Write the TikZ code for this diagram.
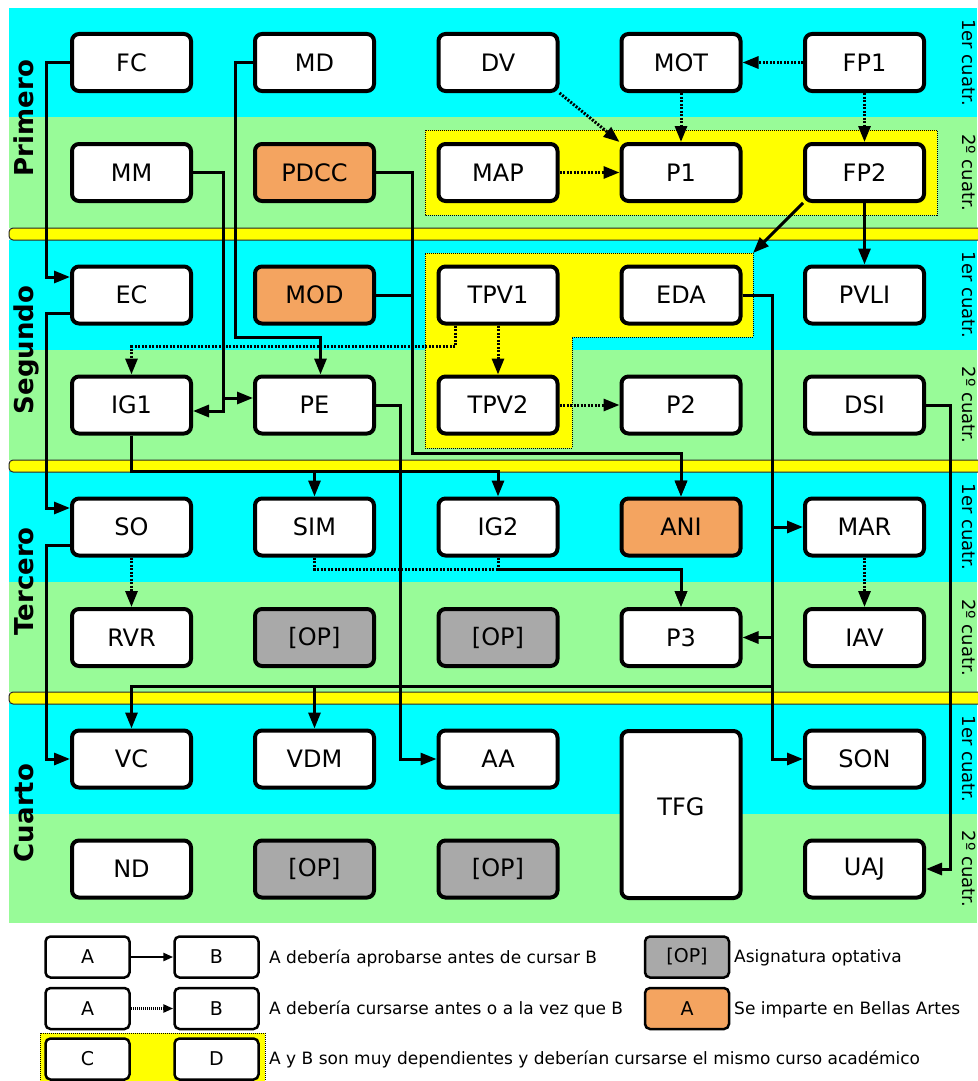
\documentclass[tikz,border=0pt]{standalone}
\usepackage{fontspec}
\setmainfont{DejaVu Sans}
\usetikzlibrary{arrows.meta}
\definecolor{cuatuno}{HTML}{00FFFF}
\definecolor{cuatdos}{HTML}{98FB98}
\definecolor{barra}{HTML}{FFFF00}
\definecolor{bellas}{HTML}{F4A460}
\definecolor{optativa}{HTML}{A9A9A9}
\tikzset{
  subject/.style={draw, rounded corners=7pt, line width=4pt, fill=white, minimum width=119pt, minimum height=57pt, inner sep=0pt, font=\fontsize{24}{28}\selectfont},
  subjba/.style={subject, fill=bellas},
  subjop/.style={subject, fill=optativa},
  prereq/.style={-{Triangle[length=16pt,width=12pt]}, line width=3pt},
  coreq/.style={prereq, dash pattern=on 2pt off 1.5pt},
  group/.style={fill=barra, draw=black, line width=1pt, dash pattern=on 1pt off 1pt},
  sepbar/.style={fill=barra, draw=black!85, line width=1pt, rounded corners=4pt},
  yearlabel/.style={rotate=90, anchor=base, font=\bfseries\fontsize{26}{30}\selectfont},
  termlabel/.style={rotate=-90, anchor=base, font=\fontsize{18}{22}\selectfont},
  legbox/.style={draw, rounded corners=5pt, line width=2.5pt, fill=white, minimum width=84pt, minimum height=41pt, inner sep=0pt, font=\fontsize{19}{22}\selectfont},
  legarrow/.style={-{Triangle[length=10pt,width=8pt]}, line width=2.5pt},
  legtext/.style={anchor=west, inner sep=0pt, font=\fontsize{17}{20}\selectfont}
}

\begin{document}
\begin{tikzpicture}[x=1pt, y=-1pt]
  \useasboundingbox (0,0) rectangle (977,1081);
  \fill[white] (0,0) rectangle (977,1081);
  \foreach \a/\b/\c in {8/117/228, 240/350/460, 471/582/692, 703/814/923} {
    \fill[cuatuno] (9,\a) rectangle (977,\b);
    \fill[cuatdos] (9,\b) rectangle (977,\c);
  }
  \foreach \a in {228,460,692}
    \draw[sepbar] (9,\a) rectangle (990,\a+12);
  \foreach \t/\y in {Primero/118, Segundo/350, Tercero/581.5, Cuarto/813}
    \node[yearlabel] (\t) at (33,\y) {\t};
  \foreach \y [count=\i] in {62.5,295,527,759}
    \node[termlabel] (cuno\i) at (962,\y) {1er cuatr.};
  \foreach \y [count=\i] in {172.5,405,637.5,869}
    \node[termlabel] (cdos\i) at (962,\y) {2º cuatr.};

  \filldraw[group] (425,130) rectangle (937,215);
  \filldraw[group] (425,253) -- (753,253) -- (753,337) -- (572,337) -- (572,448) -- (425,448) -- cycle;
  \coordinate (esq) at (753,253);

  \node[subject] (fc) at (131.5,62.5) {FC};
  \node[subject] (md) at (314.5,62.5) {MD};
  \node[subject] (dv) at (498,62.5) {DV};
  \node[subject] (mot) at (681,62.5) {MOT};
  \node[subject] (fp1) at (864.5,62.5) {FP1};
  \node[subject] (mm) at (131.5,172.5) {MM};
  \node[subjba] (pdcc) at (314.5,172.5) {PDCC};
  \node[subject] (map) at (498,172.5) {MAP};
  \node[subject] (p1) at (681,172.5) {P1};
  \node[subject] (fp2) at (864.5,172.5) {FP2};
  \node[subject] (ec) at (131.5,295) {EC};
  \node[subjba] (mod) at (314.5,295) {MOD};
  \node[subject] (tpv1) at (498,295) {TPV1};
  \node[subject] (eda) at (681,295) {EDA};
  \node[subject] (pvli) at (864.5,295) {PVLI};
  \node[subject] (ig1) at (131.5,405) {IG1};
  \node[subject] (pe) at (314.5,405) {PE};
  \node[subject] (tpv2) at (498,405) {TPV2};
  \node[subject] (p2) at (681,405) {P2};
  \node[subject] (dsi) at (864.5,405) {DSI};
  \node[subject] (so) at (131.5,527) {SO};
  \node[subject] (sim) at (314.5,527) {SIM};
  \node[subject] (ig2) at (498,527) {IG2};
  \node[subjba] (ani) at (681,527) {ANI};
  \node[subject] (mar) at (864.5,527) {MAR};
  \node[subject] (rvr) at (131.5,637.5) {RVR};
  \node[subjop] (opa) at (314.5,637.5) {[OP]};
  \node[subjop] (opb) at (498,637.5) {[OP]};
  \node[subject] (p3) at (681,637.5) {P3};
  \node[subject] (iav) at (864.5,637.5) {IAV};
  \node[subject] (vc) at (131.5,759) {VC};
  \node[subject] (vdm) at (314.5,759) {VDM};
  \node[subject] (aa) at (498,759) {AA};
  \node[subject, minimum height=167pt, text depth=15pt] (tfg) at (681,814.5) {TFG};
  \node[subject] (son) at (864.5,759) {SON};
  \node[subject] (nd) at (131.5,869) {ND};
  \node[subjop] (opc) at (314.5,869) {[OP]};
  \node[subjop] (opd) at (498,869) {[OP]};
  \node[subject] (uaj) at (864.5,869) {UAJ};

  \draw[prereq] (fc.west) -- ++(-24,0) |- ([yshift=18pt]ec.west);
  \draw[prereq] ([yshift=-18pt]ec.west) -- ++(-24,0) |- ([yshift=19pt]so.west);
  \draw[prereq] ([yshift=-18pt]so.west) -- ++(-24,0) |- (vc.west);
  \draw[prereq] (mm.east) -- ++(30,0) |- ([yshift=-6pt]ig1.east);
  \draw[prereq] (mm.east) -- ++(30,0) |- ([yshift=7pt]pe.west);
  \draw[prereq] (md.west) -- ++(-18,0) -- ++(0,275) -| ([xshift=6pt]pe.north);
  \draw[prereq] (pdcc.east) -- ++(36,0) -- ++(0,280.5) -| (ani.north);
  \draw[prereq] (mod.east) -- ++(36,0) -- ++(0,158) -| (ani.north);
  \draw[prereq] (fp2.south) -- (pvli.north);
  \draw[prereq] (fp2.south west) -- (esq);
  \draw[prereq] (ig1.south) -- ++(0,36) -| (sim.north);
  \draw[prereq] (ig1.south) -- ++(0,36) -| (ig2.north);
  \draw[prereq] (pe.east) -- ++(24,0) |- (aa.west);
  \draw[prereq] (eda.east) -- ++(30,0) |- (son.west);
  \draw[prereq] (eda.east) -- ++(30,0) |- (mar.west);
  \draw[prereq] (eda.east) -- ++(30,0) |- (p3.east);
  \draw[prereq] (eda.east) -- ++(30,0) -- ++(0,391) -| (vc.north);
  \draw[prereq] (eda.east) -- ++(30,0) -- ++(0,391) -| (vdm.north);
  \draw[prereq] (dsi.east) -- ++(24,0) |- (uaj.east);

  \draw[coreq] (fp1.west) -- (mot.east);
  \draw[coreq] (dv.south east) -- (p1.north west);
  \draw[coreq] (mot.south) -- (p1.north);
  \draw[coreq] (fp1.south) -- (fp2.north);
  \draw[coreq] (map.east) -- (p1.west);
  \draw[coreq] (tpv1.south) -- (tpv2.north);
  \draw[coreq] ([xshift=-43pt]tpv1.south) -- ++(0,21) -| (ig1.north);
  \draw[coreq] (tpv2.east) -- (p2.west);
  \draw[coreq] (so.south) -- (rvr.north);
  \draw[coreq] (sim.south) -- ++(0,11.5) -| (p3.north);
  \draw[coreq] (ig2.south) -- ++(0,11.5) -| (p3.north);
  \draw[coreq] (mar.south) -- (iav.north);

  \node[legbox] (la1) at (87.5,957) {A};
  \node[legbox] (lb1) at (216.5,957) {B};
  \draw[legarrow] (la1) -- (lb1);
  \node[legtext] (lt1) at (269,958) {A debería aprobarse antes de cursar B};
  \node[legbox] (la2) at (87.5,1008.5) {A};
  \node[legbox] (lb2) at (216.5,1008.5) {B};
  \draw[legarrow, dash pattern=on 1pt off 1pt] (la2) -- (lb2);
  \node[legtext] (lt2) at (269,1009.5) {A debería cursarse antes o a la vez que B};
  \filldraw[group] (40,1033) rectangle (265,1095);
  \node[legbox] (lc) at (87.5,1059) {C};
  \node[legbox] (ld) at (216.5,1059) {D};
  \node[legtext] (lt3) at (269,1059) {A y B son muy dependientes y deberían cursarse el mismo curso académico};
  \node[legbox, fill=optativa] (lop) at (687,957) {[OP]};
  \node[legtext] (lt4) at (734,958) {Asignatura optativa};
  \node[legbox, fill=bellas] (lba) at (687,1008.5) {A};
  \node[legtext] (lt5) at (734,1009.5) {Se imparte en Bellas Artes};
\end{tikzpicture}
\end{document}
